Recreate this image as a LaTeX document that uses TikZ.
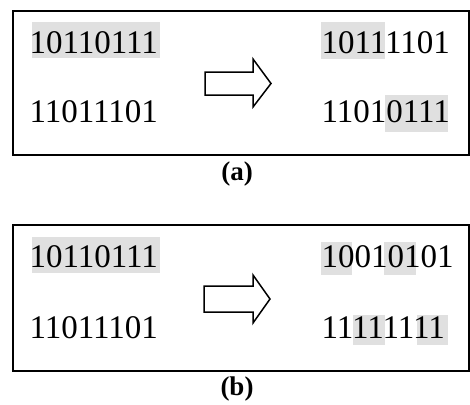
\documentclass[tikz,border=0pt]{standalone}
\usepackage{fontspec}
\setmainfont{Liberation Serif}
\begin{document}
\begin{tikzpicture}[x=1pt,y=-1pt,
  bits/.style={inner sep=0pt, anchor=base west, font=\fontsize{33}{33}\selectfont},
  caplabel/.style={inner sep=0pt, font=\fontsize{27}{27}\selectfont\bfseries},
  frame/.style={draw=black, line width=1.5pt},
  shade/.style={fill=black!12, draw=none},
  blockarrow/.style={draw=black, line width=1.5pt, fill=white, line join=miter}]
\useasboundingbox (0,0) rectangle (470,404);
% ---------- (a) ----------
\draw[frame] (13,11) rectangle (469,155);
\fill[shade] (32,22) rectangle (160,58);
\fill[shade] (321,22) rectangle (385,59);
\fill[shade] (385,95) rectangle (448,132);
\node[bits] (a1) at (29.3,53) {10110111};
\node[bits] (a2) at (29.3,122) {11011101};
\node[bits] (a3) at (321.3,53) {10111101};
\node[bits] (a4) at (321.3,122) {11010111};
\draw[blockarrow] (205,72) -- (253,72) -- (253,59) -- (271,83.5) -- (253,107) -- (253,95) -- (205,95) -- cycle;
\node[caplabel] (la) at (237,174) {(a)};
% ---------- (b) ----------
\draw[frame] (13,225) rectangle (469,371);
\fill[shade] (32,237) rectangle (160,273);
\fill[shade] (321,242) rectangle (352,275);
\fill[shade] (384,242) rectangle (416,275);
\fill[shade] (353,315) rectangle (385,345);
\fill[shade] (417,315) rectangle (448,345);
\node[bits] (b1) at (29.3,267) {10110111};
\node[bits] (b2) at (29.3,338) {11011101};
\node[bits] (b3) at (321.3,267) {10010101};
\node[bits] (b4) at (321.3,338) {11111111};
\draw[blockarrow] (204,286) -- (253,286) -- (253,275) -- (270,299) -- (253,323) -- (253,312) -- (204,312) -- cycle;
\node[caplabel] (lb) at (237,389) {(b)};
\end{tikzpicture}
\end{document}
